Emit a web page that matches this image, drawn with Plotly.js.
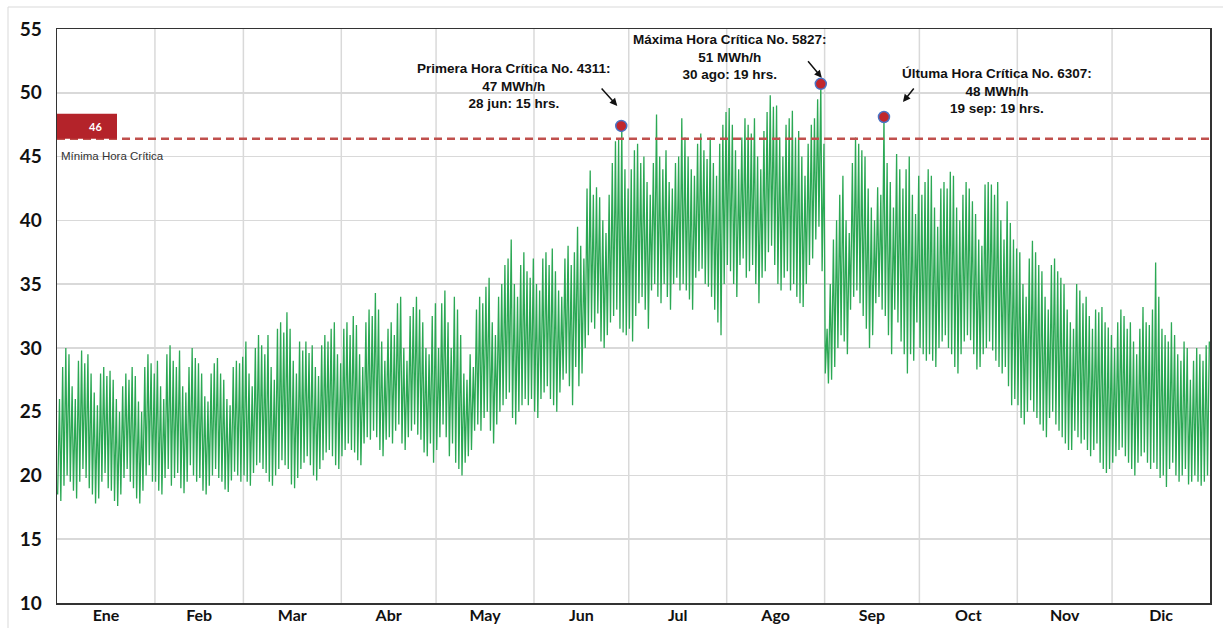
<!DOCTYPE html>
<html><head><meta charset="utf-8">
<script src="https://cdn.plot.ly/plotly-3.0.1.min.js"></script>
<style>html,body{margin:0;padding:0;background:#fff}#chart{width:1223px;height:628px}</style>
</head><body><div id="chart"></div>
<script>
// ---- data ----
const months = ['Ene','Feb','Mar','Abr','May','Jun','Jul','Ago','Sep','Oct','Nov','Dic'];
const monthDays = [31,28,31,30,31,30,31,31,30,31,30,31];

// daily maximum demand (MWh/h)
const maxEne = [26.0,28.5,30.0,29.5,27.0,26.0,29.0, 29.8,28.8,29.5,28.0,26.5,25.5,28.0, 28.5,27.8,28.2,27.5,26.0,25.0,27.0, 28.0,27.5,28.5,27.8,25.8,25.0,28.5, 29.5,28.8,28.0];
const maxFeb = [29.0,27.0,26.0,29.5,30.2,29.0,28.5, 29.8,27.0,26.5,28.5,30.0,29.2,28.8, 28.0,26.2,25.8,28.0,28.8,29.2,28.0, 27.5,26.0,25.5,28.5,29.0,28.8,29.3];
const maxMar = [30.5,28.0,27.0,30.0,31.0,30.2,29.5, 31.0,28.5,27.5,31.5,32.0,31.2,32.8, 31.5,29.0,28.0,30.5,29.8,30.5,29.6, 30.2,28.5,27.8,30.2,31.0,30.5,31.5, 32.0,29.5,28.8];
const maxAbr = [31.5,32.0,31.0,32.5,31.8,29.5,28.5, 32.0,33.0,32.5,34.3,33.0,30.5,29.0, 31.5,32.0,31.0,33.5,34.0,30.0,29.0, 32.5,33.2,34.0,33.0,32.0,30.0,29.5, 32.5,33.5];
const maxMay = [30.0,33.5,34.5,32.0,30.0,34.0,33.0, 31.0,28.0,27.5,29.5,28.5,33.0,34.0, 33.5,34.8,35.5,32.0,31.0,34.0,35.0, 36.5,37.0,38.5,35.0,34.0,36.5,37.5, 36.0,35.5,37.0];
const maxJun = [35.0,34.5,37.0,37.5,36.5,37.8,36.0, 34.5,34.0,37.0,38.0,36.5,37.5,39.5, 38.0,37.0,42.5,43.9,42.0,42.6,41.8, 40.0,39.0,42.0,44.5,46.2,46.3,47.4, 44.0,42.5];
const maxJul = [44.0,45.5,46.0,44.5,45.0,43.0,42.0, 44.5,48.3,45.0,44.0,45.5,43.0,42.5, 44.5,45.0,48.0,46.5,45.0,44.0,43.5, 46.0,46.8,45.5,44.8,46.5,44.5,43.5, 46.0,47.5,48.5];
const maxAgo = [48.8,47.5,45.5,44.0,46.5,48.0,47.5, 46.8,48.0,45.0,44.0,47.0,48.5,49.8, 48.9,49.0,46.5,45.0,47.5,48.0,48.6, 46.5,47.0,45.0,43.5,46.0,47.5,48.0, 49.5,50.7,46.0];
const maxSep = [31.5,35.0,38.5,40.0,42.0,43.5,40.0, 39.0,44.5,46.5,46.0,45.5,45.0,42.5, 41.0,40.0,42.6,42.0,48.1,44.5,43.0, 41.0,45.2,44.0,42.5,44.0,45.0,42.0, 40.5,43.5];
const maxOct = [42.0,43.0,44.0,43.5,41.0,39.5,42.5, 43.0,42.5,43.8,43.5,41.0,40.0,42.0, 43.0,42.5,41.5,40.5,38.5,38.0,42.8, 43.0,42.8,42.0,43.0,40.0,38.5,41.5, 39.8,38.5,37.8];
const maxNov = [37.5,35.0,34.0,37.0,38.4,37.5,36.5, 36.0,34.0,33.0,36.5,37.0,36.0,35.5, 35.0,33.0,32.0,31.5,35.0,34.5,33.5, 34.0,32.5,31.5,33.0,32.8,33.2,32.0, 31.6,31.0];
const maxDic = [30.0,32.0,33.0,32.5,31.5,32.0,30.5, 29.5,31.5,33.2,32.0,31.8,33.0,36.7, 34.0,31.5,31.0,30.5,32.0,31.0,29.5, 29.0,30.5,30.0,27.5,29.0,30.0,29.5, 29.0,30.2,30.5];

// daily minimum demand (MWh/h)
const minEne = [18.5,18.0,19.2,20.0,19.5,18.8,18.2, 19.5,20.5,19.8,19.0,18.5,17.8,18.2, 19.5,20.2,19.0,18.8,18.0,17.6,18.5, 19.8,20.5,19.5,19.0,18.2,17.8,18.8, 20.0,20.8,19.5];
const minFeb = [19.5,18.8,18.5,19.8,20.5,19.2,19.8, 20.2,19.0,18.6,19.5,20.8,20.0,19.5, 19.8,18.8,18.5,19.2,20.0,20.5,19.8, 19.5,18.9,18.7,19.6,20.3,20.0,19.5];
const minMar = [20.0,19.5,19.2,20.2,20.8,21.0,20.5, 20.2,19.5,19.2,20.0,20.5,21.2,20.8, 20.5,19.3,19.0,19.8,20.5,21.0,21.5, 20.8,20.0,19.6,20.5,21.2,21.8,22.0, 21.5,20.8,20.5];
const minAbr = [21.5,22.0,22.5,22.0,21.8,21.2,20.8, 22.5,23.0,22.8,23.5,23.0,22.0,21.5, 22.8,23.0,22.5,23.5,24.0,22.5,22.0, 23.0,23.5,24.0,23.2,22.8,21.8,21.5, 22.5,21.0];
const minMay = [22.0,23.0,24.0,23.0,21.5,22.5,21.0, 20.5,20.0,21.0,21.5,22.0,23.5,24.0, 23.5,24.5,25.0,23.5,22.5,24.0,25.0, 25.5,26.0,26.5,24.5,24.0,25.0,25.5, 26.0,25.5,26.0];
const minJun = [25.0,24.5,26.0,26.5,27.0,26.0,25.5, 25.0,26.5,27.5,28.0,27.0,25.5,28.5, 27.0,28.0,30.0,31.0,32.0,31.5,32.7, 30.5,30.0,31.0,32.0,32.5,33.0,31.5, 31.2,31.0];
const minJul = [31.5,30.5,32.5,33.5,34.0,33.0,31.5, 34.5,35.0,34.0,33.5,35.0,34.0,33.0, 35.0,35.5,34.5,35.0,34.5,33.8,33.0, 35.5,36.0,36.2,35.0,34.8,34.0,33.0, 32.0,31.0,35.0];
const minAgo = [36.5,36.0,35.0,34.0,36.5,37.0,35.5, 36.0,36.5,35.0,33.5,35.5,36.0,37.5, 38.0,36.5,35.0,34.5,35.5,36.0,34.5, 35.0,34.0,33.5,33.2,35.0,36.5,37.0, 38.5,39.5,36.0];
const minSep = [28.0,27.2,27.5,28.5,30.0,31.0,30.5, 29.5,33.0,34.0,34.5,33.5,32.5,31.5, 30.0,31.0,33.5,34.0,33.0,32.5,31.0, 29.5,33.0,32.0,30.5,29.5,28.0,29.5, 29.0,32.0];
const minOct = [30.0,29.5,29.0,29.5,29.0,28.5,30.0, 30.5,31.0,30.0,29.5,28.5,28.0,29.5, 30.5,31.0,30.6,29.5,28.3,28.5,29.5, 30.0,30.5,29.8,29.0,28.5,28.0,28.5, 27.0,25.5,26.0];
const minNov = [25.5,24.5,24.0,25.0,25.9,25.0,24.5, 24.0,23.5,23.0,24.5,25.0,24.0,23.5, 23.0,22.5,22.0,22.0,23.5,23.0,22.5, 22.8,22.0,21.5,22.0,22.5,21.0,20.5, 20.2,20.5];
const minDic = [21.0,21.5,22.0,22.2,21.5,21.0,20.5, 20.0,21.0,21.5,21.8,21.0,20.5,21.0, 20.5,19.8,20.0,19.1,20.5,21.0,20.0, 19.5,20.0,20.5,19.3,19.5,20.0,19.5, 19.2,19.5,20.0];

const minHour = 5, maxHour = 19;   // hour of day at which the daily min / max occur

const threshold = 46.4;             // Mínima Hora Crítica
const critName = ['Primera', 'Máxima', 'Últuma'];
const critNo = [4311, 5827, 6307];
const critMonth = [6, 8, 9];
const critDay = [28, 30, 19];
const critHourOfDay = [15, 19, 19];
const critDateText = ['28 jun', '30 ago', '19 sep'];
const critValue = [47.4, 50.7, 48.1];

// ---- build ----
const dailyMax = [].concat(maxEne,maxFeb,maxMar,maxAbr,maxMay,maxJun,maxJul,maxAgo,maxSep,maxOct,maxNov,maxDic);
const dailyMin = [].concat(minEne,minFeb,minMar,minAbr,minMay,minJun,minJul,minAgo,minSep,minOct,minNov,minDic);
const cum = [0]; monthDays.forEach((d,i)=>cum.push(cum[i]+d));
const totalHours = cum[12]*24;

const xs = [], ys = [];
for (let d = 0; d < dailyMax.length; d++) {
  xs.push(d*24 + minHour, d*24 + maxHour);
  ys.push(dailyMin[d], dailyMax[d]);
}

const critX = critMonth.map((m,i)=> (cum[m-1] + critDay[i]-1)*24 + critHourOfDay[i]);

const tickvals = months.map((m,i)=> (cum[i] + monthDays[i]/2)*24);

const traces = [
  {x: xs, y: ys, type: 'scatter', mode: 'lines', line: {color: 'rgb(43,168,84)', width: 1.3}, hoverinfo: 'skip'},
  {x: critX, y: critValue, type: 'scatter', mode: 'markers',
   marker: {size: 11, color: '#C1272D', line: {color: '#4A73C5', width: 1.5}}, hoverinfo: 'skip'}
];

const shapes = [];
// month gridlines
for (let i = 1; i < 12; i++) {
  shapes.push({type:'line', xref:'x', yref:'paper', x0: cum[i]*24, x1: cum[i]*24, y0: 0, y1: 1,
    line:{color:'#d9d9d9', width:1.5}, layer:'below'});
}
// outer chart frame
shapes.push({type:'rect', xref:'paper', yref:'paper', x0: -49/1153, x1: 1.02, y0: -0.1, y1: (603-7)/574,
  line:{color:'#d9d9d9', width:1}, layer:'below'});
// threshold line
shapes.push({type:'line', xref:'paper', yref:'y', x0: 0, x1: 1, y0: threshold, y1: threshold,
  line:{color:'rgb(192,80,77)', width:2.5, dash:'8px,5px'}});
// red label box
shapes.push({type:'rect', xref:'paper', yref:'y', x0: 0, x1: 60/1153, y0: threshold, y1: threshold + 1.95,
  fillcolor:'#B4232A', line:{width:0}});

const annFont = {family: 'Liberation Sans Narrow, Arial Narrow, Liberation Sans, sans-serif', size: 13.5, color: '#111', weight: 'bold'};
const textShift = [[-107, 40], [-91, 27], [113, 26]];
const arrowCfg = [
  {xs:-4, ys:20, ax:-17, ay:-19},
  {xs:1, ys:6, ax:-15, ay:-18},
  {xs:19, ys:15, ax:12, ay:-15}
];

const annotations = [];
critX.forEach((cx,i)=>{
  annotations.push({x: cx, y: critValue[i], xref:'x', yref:'y', showarrow:false,
    xshift: textShift[i][0], yshift: textShift[i][1], align:'center',
    text: critName[i] + ' Hora Crítica No. ' + critNo[i] + ':<br>' + Math.round(critValue[i]) + ' MWh/h<br>' +
          critDateText[i] + ': ' + critHourOfDay[i] + ' hrs.',
    font: annFont});
  const a = arrowCfg[i];
  annotations.push({x: cx, y: critValue[i], xref:'x', yref:'y', text:'', showarrow:true,
    xshift: a.xs, yshift: a.ys, ax: a.ax, ay: a.ay, arrowhead: 2, arrowsize: 1, arrowwidth: 1.5,
    arrowcolor: '#111', standoff: 0, startstandoff: 0});
});
annotations.push({x: 30/1153, y: threshold + 0.975, xref:'paper', yref:'y', showarrow:false,
  text: String(Math.round(threshold)), font:{family:'Lato, sans-serif', size:11, color:'#fff', weight:'bold'}});
annotations.push({x: 0.002, y: threshold, xref:'paper', yref:'y', showarrow:false, xanchor:'left', yanchor:'middle',
  yshift: -17, text:'Mínima Hora Crítica', font:{family:'Liberation Sans Narrow, Arial Narrow, sans-serif', size:11.5, color:'#333'}});

const layout = {
  width: 1223, height: 628,
  margin: {l: 57, r: 13, t: 29, b: 25},
  paper_bgcolor: '#fff', plot_bgcolor: '#fff',
  showlegend: false,
  xaxis: {range: [0, totalHours], tickvals: tickvals, ticktext: months, showgrid: false, zeroline: false,
    showline: true, linecolor: '#333', linewidth: 1.5, mirror: true, ticks: '', ticklabelstandoff: -3,
    tickfont: {family: 'Lato, sans-serif', size: 16, color: '#111', weight: 'bold'}},
  yaxis: {range: [10, 55], dtick: 5, tick0: 10, showgrid: true, gridcolor: '#d9d9d9', gridwidth: 1.5,
    zeroline: false, showline: true, linecolor: '#333', linewidth: 1.5, mirror: true, ticks: '',
    ticklabelstandoff: 10,
    tickfont: {family: 'Lato, sans-serif', size: 19, color: '#111', weight: 'bold'}},
  shapes: shapes,
  annotations: annotations
};

Plotly.newPlot('chart', traces, layout, {displayModeBar: false, staticPlot: true});
</script>
</body></html>
